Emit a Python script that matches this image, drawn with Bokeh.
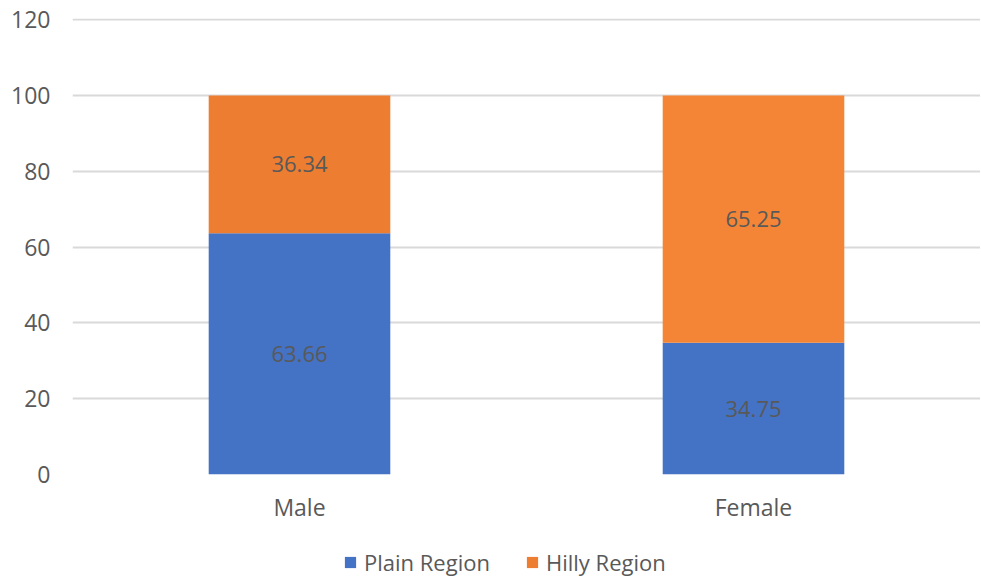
from bokeh.plotting import figure
from bokeh.layouts import column
from bokeh.models import ColumnDataSource, FactorRange, Range1d, Legend, LegendItem, FixedTicker
from bokeh.core.properties import value
from bokeh.embed import file_html
from bokeh.resources import INLINE

categories = ["Male", "Female"]
plain = [63.66, 34.75]
hilly = [36.34, 65.25]
y_ticks = [0, 20, 40, 60, 80, 100, 120]
series_names = ["Plain Region", "Hilly Region"]

plain_color = "#4472C4"
hilly_colors = ["#ED7D31", "#F58536"]
FONT = "Open Sans"
GRAY = "#595959"

src = ColumnDataSource(dict(
    cat=categories,
    top_plain=plain,
    bottom_hilly=plain,
    top_hilly=[a + b for a, b in zip(plain, hilly)],
    mid_plain=[a / 2 for a in plain],
    mid_hilly=[a + b / 2 for a, b in zip(plain, hilly)],
    plain_lbl=[f"{v:.2f}" for v in plain],
    hilly_lbl=[f"{v:.2f}" for v in hilly],
    hcolor=hilly_colors,
))

p = figure(x_range=FactorRange(*categories, range_padding=0), y_range=Range1d(0, 120.3),
           width=980, height=530, output_backend="svg", toolbar_location=None,
           min_border_left=72, min_border_right=0, min_border_top=18, min_border_bottom=56)
p.outline_line_color = None

r1 = p.vbar(x="cat", top="top_plain", bottom=0, width=0.4, source=src,
            fill_color=plain_color, line_color=None)
r2 = p.vbar(x="cat", top="top_hilly", bottom="bottom_hilly", width=0.4, source=src,
            fill_color="hcolor", line_color=None)

p.text(x="cat", y="mid_plain", text="plain_lbl", source=src, text_align="center",
       text_baseline="middle", text_font=value(FONT), text_font_size="22px", text_color=GRAY)
p.text(x="cat", y="mid_hilly", text="hilly_lbl", source=src, text_align="center",
       text_baseline="middle", text_font=value(FONT), text_font_size="22px", text_color=GRAY)

p.yaxis.ticker = FixedTicker(ticks=y_ticks)
p.ygrid.ticker = FixedTicker(ticks=y_ticks)
p.ygrid.grid_line_color = "#D9D9D9"
p.ygrid.grid_line_width = 2
p.xgrid.grid_line_color = None

for ax in (p.xaxis, p.yaxis):
    ax.axis_line_color = None
    ax.major_tick_line_color = None
    ax.minor_tick_line_color = None
    ax.major_tick_out = 0
    ax.major_tick_in = 0
    ax.major_label_text_font = FONT
    ax.major_label_text_font_size = "23px"
    ax.major_label_text_color = GRAY
p.yaxis.major_label_standoff = 22
p.xaxis.major_label_standoff = 16

# legend strip as a separate figure; proxy renderers sit outside the visible range
lg = figure(width=980, height=47, output_backend="svg", toolbar_location=None,
            x_range=Range1d(0, 1), y_range=Range1d(0, 1),
            x_axis_type=None, y_axis_type=None,
            min_border_left=0, min_border_right=0, min_border_top=0, min_border_bottom=0)
lg.outline_line_color = None
proxy = ColumnDataSource(dict(x=[-10], top=[-10]))
l1 = lg.vbar(x="x", top="top", bottom=-11, width=0.1, source=proxy,
             fill_color=plain_color, line_color=None)
l2 = lg.vbar(x="x", top="top", bottom=-11, width=0.1, source=proxy,
             fill_color=hilly_colors[0], line_color=None)

legend = Legend(items=[
    LegendItem(label=series_names[0], renderers=[l1]),
    LegendItem(label=series_names[1], renderers=[l2]),
], orientation="horizontal", location=(271, 0))
legend.label_text_font = FONT
legend.label_text_font_size = "22px"
legend.label_text_color = GRAY
legend.glyph_width = 14
legend.glyph_height = 14
legend.label_standoff = 7
legend.spacing = 35
legend.border_line_color = None
legend.background_fill_alpha = 0
legend.margin = 0
legend.padding = 0
lg.add_layout(legend, "center")

layout = column(p, lg, spacing=0)
open("out.html", "w").write(file_html(layout, INLINE))
